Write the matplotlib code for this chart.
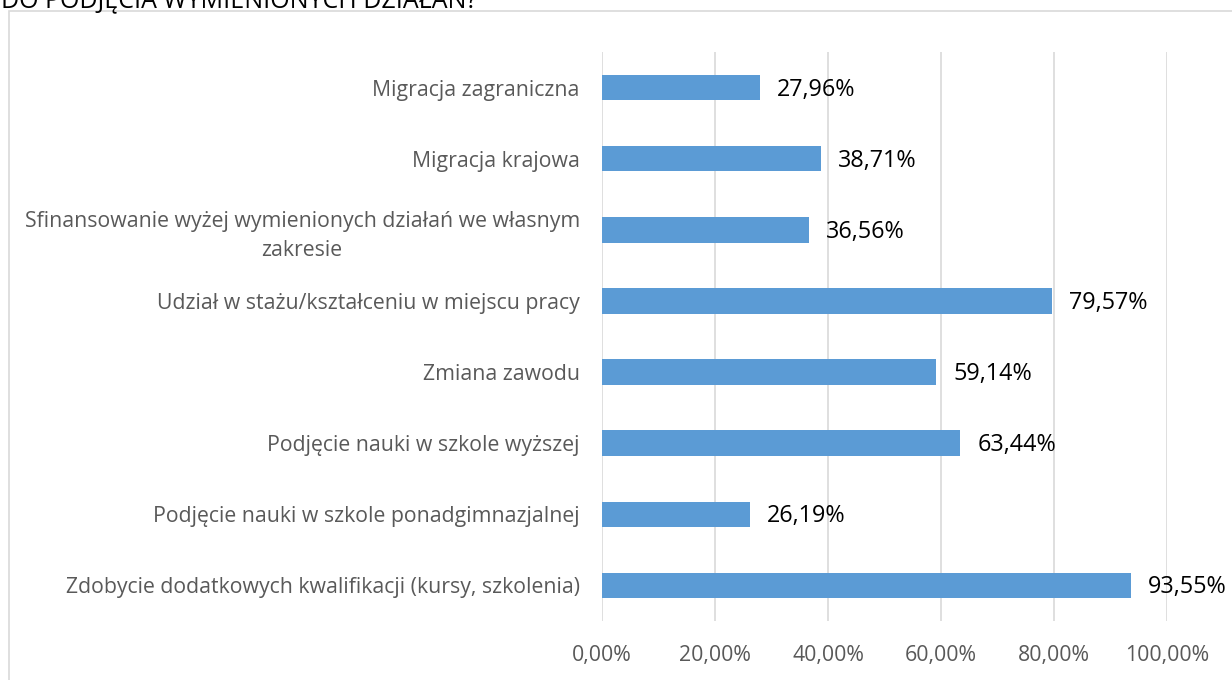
import matplotlib
matplotlib.use("Agg")
import matplotlib.pyplot as plt
from matplotlib.patches import Rectangle
from matplotlib.ticker import FuncFormatter

categories = [
    "Zdobycie dodatkowych kwalifikacji (kursy, szkolenia)",
    "Podjęcie nauki w szkole ponadgimnazjalnej",
    "Podjęcie nauki w szkole wyższej",
    "Zmiana zawodu",
    "Udział w stażu/kształceniu w miejscu pracy",
    "Sfinansowanie wyżej wymienionych działań we własnym\nzakresie",
    "Migracja krajowa",
    "Migracja zagraniczna",
]
values = [93.55, 26.19, 63.44, 59.14, 79.57, 36.56, 38.71, 27.96]
ticks = [0, 20, 40, 60, 80, 100]
title = "DO PODJĘCIA WYMIENIONYCH DZIAŁAŃ?"

W, H = 1232, 680
fig = plt.figure(figsize=(W / 100, H / 100), dpi=100)
plt.rcParams["font.family"] = ["Open Sans", "DejaVu Sans"]

# chart frame, running off the right and bottom edges
fig.patches.append(Rectangle((9 / W, -0.1), 1.1, 1 - 11 / H + 0.1,
                             transform=fig.transFigure, fill=False,
                             edgecolor="#d9d9d9", linewidth=1.2))
fig.text(1 / W, 1 - 8 / H, title, fontsize=18, color="#000000",
         ha="left", va="baseline")

left, right = 602 / W, 1167 / W
top, bottom = 1 - 52 / H, 1 - 621 / H
ax = fig.add_axes([left, bottom, right - left, top - bottom])

pct = lambda v: f"{v:.2f}%".replace(".", ",")

y = list(range(len(categories)))
ax.barh(y, values, height=0.36, color="#5b9bd5", zorder=3)
ax.set_xlim(0, 100)
ax.set_ylim(-0.5, len(categories) - 0.5)
ax.set_xticks(ticks)
ax.xaxis.set_major_formatter(FuncFormatter(lambda v, p: pct(v)))
ax.set_yticks(y)
ax.set_yticklabels(categories, multialignment="center", linespacing=1.5)
ax.tick_params(axis="x", length=0, pad=17, labelsize=15.3, labelcolor="#595959")
ax.tick_params(axis="y", length=0, pad=16, labelsize=15.3, labelcolor="#595959")
ax.grid(axis="x", color="#d9d9d9", linewidth=1.2, zorder=0)
for s in ax.spines.values():
    s.set_visible(False)

for yi, v in zip(y, values):
    ax.annotate(pct(v), (v, yi), xytext=(17, -2), textcoords="offset pixels",
                ha="left", va="center", fontsize=16.8, color="#000000", zorder=4)

fig.savefig("out.png", dpi=100)
